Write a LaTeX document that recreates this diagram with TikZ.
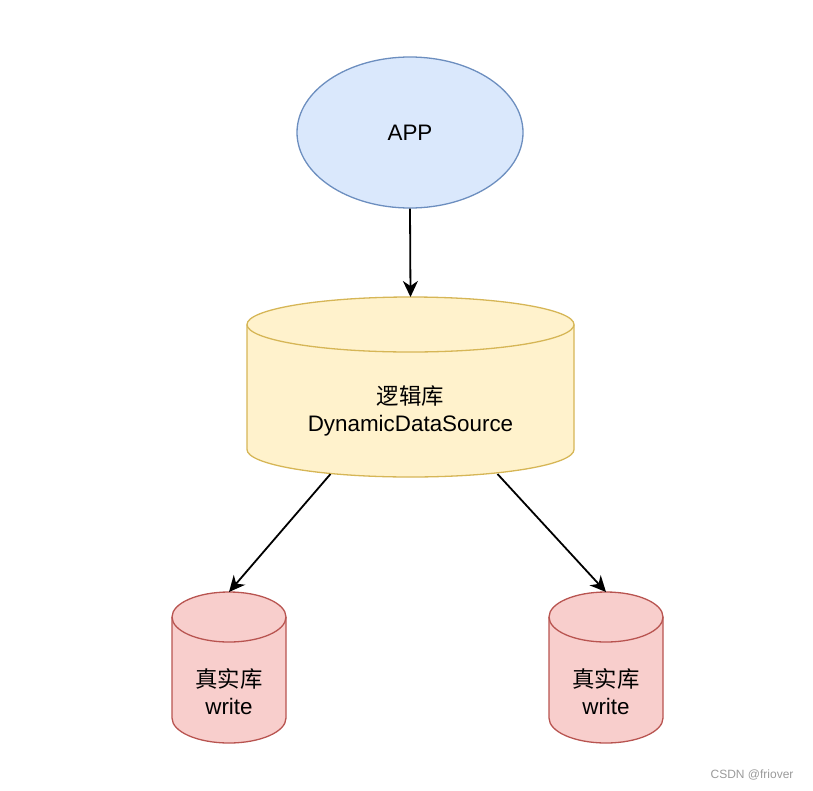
\documentclass[tikz,border=0pt]{standalone}
\usepackage{fontspec}
\setmainfont{Liberation Sans}
\newfontfamily\cjk{Noto Sans CJK SC}
\usetikzlibrary{
    shapes.geometric,
    arrows.meta,
    positioning
}
\definecolor{appfill}{HTML}{DAE8FC}
\definecolor{appline}{HTML}{6C8EBF}
\definecolor{logfill}{HTML}{FFF2CC}
\definecolor{logline}{HTML}{D6B656}
\definecolor{realfill}{HTML}{F8CECC}
\definecolor{realline}{HTML}{B85450}
\definecolor{markgray}{HTML}{9A9A9A}

% cylinder outline round a named box: node, x radius, y radius, line, fill
\newcommand{\dbcyl}[5]{%
    \draw[line width=1.3pt, draw=#4, fill=#5]
        ([yshift=-#3]#1.north west) -- ([yshift=#3]#1.south west)
        arc[start angle=180, end angle=360, x radius=#2, y radius=#3]
        -- ([yshift=-#3]#1.north east)
        arc[start angle=0, end angle=180, x radius=#2, y radius=#3] -- cycle;
    \draw[line width=1.3pt, draw=#4]
        ([yshift=-#3]#1.north west)
        arc[start angle=180, end angle=360, x radius=#2, y radius=#3];
}

\begin{document}
\begin{tikzpicture}[x=1pt, y=1pt,
    every node/.style={font=\fontsize{22.4}{27}\selectfont},
    dbbox/.style={inner sep=0pt, outer sep=0pt},
    link/.style={line width=1.8pt, -{Stealth[length=16pt, width=15pt, inset=5pt]}}]
                        \useasboundingbox (0,0) rectangle (813,-790);
                        \node[ellipse, draw=appline, fill=appfill, line width=1.3pt, minimum width=226, minimum height=151, inner sep=0pt] (app) at (410,-132.5) {APP};
                        \node[dbbox, minimum width=327, minimum height=180] (dds) at (410.5,-387) {};
                        \node[dbbox, minimum width=114, minimum height=151] (w1) at (229,-667.5) {};
                        \node[dbbox, minimum width=114, minimum height=151] (w2) at (606,-667.5) {};
                        \dbcyl{dds}{163.5pt}{27.5pt}{logline}{logfill}
                        \dbcyl{w1}{57pt}{25pt}{realline}{realfill}
                        \dbcyl{w2}{57pt}{25pt}{realline}{realfill}
                        \node[align=center] (ddstext) at (410.5,-411) {{\cjk 逻辑库}\\DynamicDataSource};
                        \node[align=center] (w1text) at (229,-692) {{\cjk 真实库}\\write};
                        \node[align=center] (w2text) at (606,-692) {{\cjk 真实库}\\write};
                        \node[text=markgray, font=\fontsize{12}{14}\selectfont, anchor=east] (mark) at (797,-775) {CSDN @friover};
                        \draw
                        (app.south) edge[link] (dds.north)
                        ([xshift=-80pt, yshift=3pt]dds.south) edge[link] (w1.north)
                        ([xshift=87pt, yshift=3pt]dds.south) edge[link] (w2.north);
                    \end{tikzpicture}
\end{document}
